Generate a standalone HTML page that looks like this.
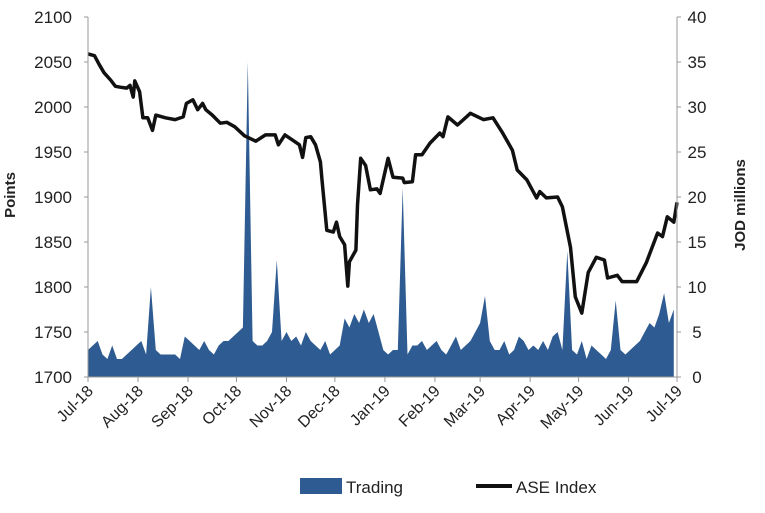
<!DOCTYPE html>
<html><head><meta charset="utf-8"><style>
body{margin:0;background:#fff;width:765px;height:508px;overflow:hidden}
svg{font-family:"Liberation Sans",sans-serif}
</style></head><body>
<svg id="chart" width="765" height="508" viewBox="0 0 765 508" xmlns="http://www.w3.org/2000/svg"></svg>
<script>
const monthLabels=["Jul-18","Aug-18","Sep-18","Oct-18","Nov-18","Dec-18","Jan-19","Feb-19","Mar-19","Apr-19","May-19","Jun-19","Jul-19"];
const monthDays=[0,31,62,92,123,153,184,215,243,274,304,335,365];
const leftTicks=[1700,1750,1800,1850,1900,1950,2000,2050,2100];
const rightTicks=[0,5,10,15,20,25,30,35,40];
const aseDays=[0,4,7,10,14,17,20,24,26,28,29,32,34,37,40,42,48,54,59,61,65,68,71,73,77,82,86,91,97,104,110,116,118,122,127,131,133,135,138,141,144,145,148,152,154,156,159,161,162,166,167,169,172,175,179,181,186,189,195,196,201,203,207,212,218,220,223,229,237,245,251,257,263,266,272,278,280,284,291,294,299,302,306,310,315,320,322,328,331,340,346,353,356,359,363,365];
const aseValues=[2059,2057,2047,2038,2030,2023,2022,2021,2024,2011,2029,2017,1988,1988,1974,1991,1988,1986,1989,2004,2008,1997,2004,1997,1991,1982,1983,1978,1968,1962,1969,1969,1958,1969,1963,1958,1944,1966,1967,1958,1939,1919,1863,1861,1872,1856,1847,1801,1828,1841,1891,1943,1935,1908,1909,1904,1943,1922,1921,1916,1917,1947,1947,1960,1971,1967,1989,1980,1993,1986,1988,1971,1952,1930,1919,1899,1906,1899,1900,1889,1844,1789,1771,1816,1833,1830,1810,1813,1806,1806,1827,1860,1856,1878,1872,1894];
const tradingValues=[3,3.5,4,2.5,2,3.5,2,2,2.5,3,3.5,4,2.5,10,3,2.5,2.5,2.5,2.5,2,4.5,4,3.5,3,4,3,2.5,3.5,4,4,4.5,5,5.5,35,4,3.5,3.5,4,5,13,4,5,4,4.5,3.5,5,4,3.5,3,4,2.5,3,3.5,6.5,5.5,7,6,7.5,6,7,5,3,2.5,3,3,21,2.5,3.5,3.5,4,3,3.5,4,3,2.5,3.5,4.5,3,3.5,4,5,6,9,4,3,3,4,2.5,3,4.5,4,3,3.5,3,4,3,4.5,5,3,14,3,2.5,4,2,3.5,3,2.5,2,3,8.5,3,2.5,3,3.5,4,5,6,5.5,7,9.3,6,7.5];
const tradingStep=3;

const X0=88,X1=677,Y0=377,Y1=17;
const xs=d=>X0+(d/365)*(X1-X0);
const yl=v=>Y0-(v-1700)/400*(Y0-Y1);
const yr=v=>Y0-v/40*(Y0-Y1);
const svg=document.getElementById('chart');
const NS="http://www.w3.org/2000/svg";
function mk(tag,attrs,txt){const e=document.createElementNS(NS,tag);for(const k in attrs)e.setAttribute(k,attrs[k]);if(txt!==undefined)e.textContent=txt;svg.appendChild(e);return e;}

let p=`M${xs(0)},${Y0}`;
tradingValues.forEach((v,i)=>{p+=` L${xs(Math.min(365,i*tradingStep)).toFixed(1)},${yr(v).toFixed(1)}`;});
p+=` L${xs(Math.min(365,(tradingValues.length-1)*tradingStep))},${Y0} Z`;
const area=mk('path',{d:p,fill:'#2e5b91'});



const lp=aseDays.map((d,i)=>`${i?'L':'M'}${xs(d).toFixed(1)},${yl(aseValues[i]).toFixed(1)}`).join(' ');
const line=mk('path',{d:lp,fill:'none',stroke:'#111',"stroke-width":3.5,"stroke-linejoin":'round'});



const la=mk('line',{x1:X0,y1:Y1,x2:X0,y2:Y0,stroke:'#999'});


const ra=mk('line',{x1:X1,y1:Y1,x2:X1,y2:Y0,stroke:'#999'});


const ba=mk('line',{x1:X0,y1:Y0,x2:X1,y2:Y0,stroke:'#999'});



leftTicks.forEach(v=>{
  mk('line',{x1:X0-4,y1:yl(v),x2:X0,y2:yl(v),stroke:'#999'});
  const t=mk('text',{x:X0-16,y:yl(v)+6,"text-anchor":'end',"font-size":17,fill:'#222'},v);
  
  
});
rightTicks.forEach(v=>{
  mk('line',{x1:X1,y1:yr(v),x2:X1+4,y2:yr(v),stroke:'#999'});
  const t=mk('text',{x:X1+20,y:yr(v)+6,"text-anchor":'middle',"font-size":17,fill:'#222'},v);
  
  
});
monthDays.forEach((d,i)=>{
  const x=xs(d);
  mk('line',{x1:x,y1:Y0,x2:x,y2:Y0+5,stroke:'#999'});
  const t=mk('text',{x:x+6,y:Y0+15,"text-anchor":'end',"font-size":16,fill:'#222',transform:`rotate(-45 ${x+6} ${Y0+15})`},monthLabels[i]);
  
  
});

const lt=mk('text',{x:15,y:195,"text-anchor":'middle',"font-size":15,"font-weight":'bold',fill:'#222',transform:'rotate(-90 15 195)'},'Points');


const rt=mk('text',{x:745,y:205,"text-anchor":'middle',"font-size":15,"font-weight":'bold',fill:'#222',transform:'rotate(-90 745 205)'},'JOD millions');



const lr=mk('rect',{x:300,y:478,width:42,height:16,fill:'#2e5b91'});


const ltx=mk('text',{x:346,y:493,"font-size":17,fill:'#222'},'Trading');


const ll=mk('line',{x1:476,y1:486,x2:512,y2:486,stroke:'#111',"stroke-width":4});


const llx=mk('text',{x:516,y:493,"font-size":17,fill:'#222'},'ASE Index');


</script>
</body></html>
